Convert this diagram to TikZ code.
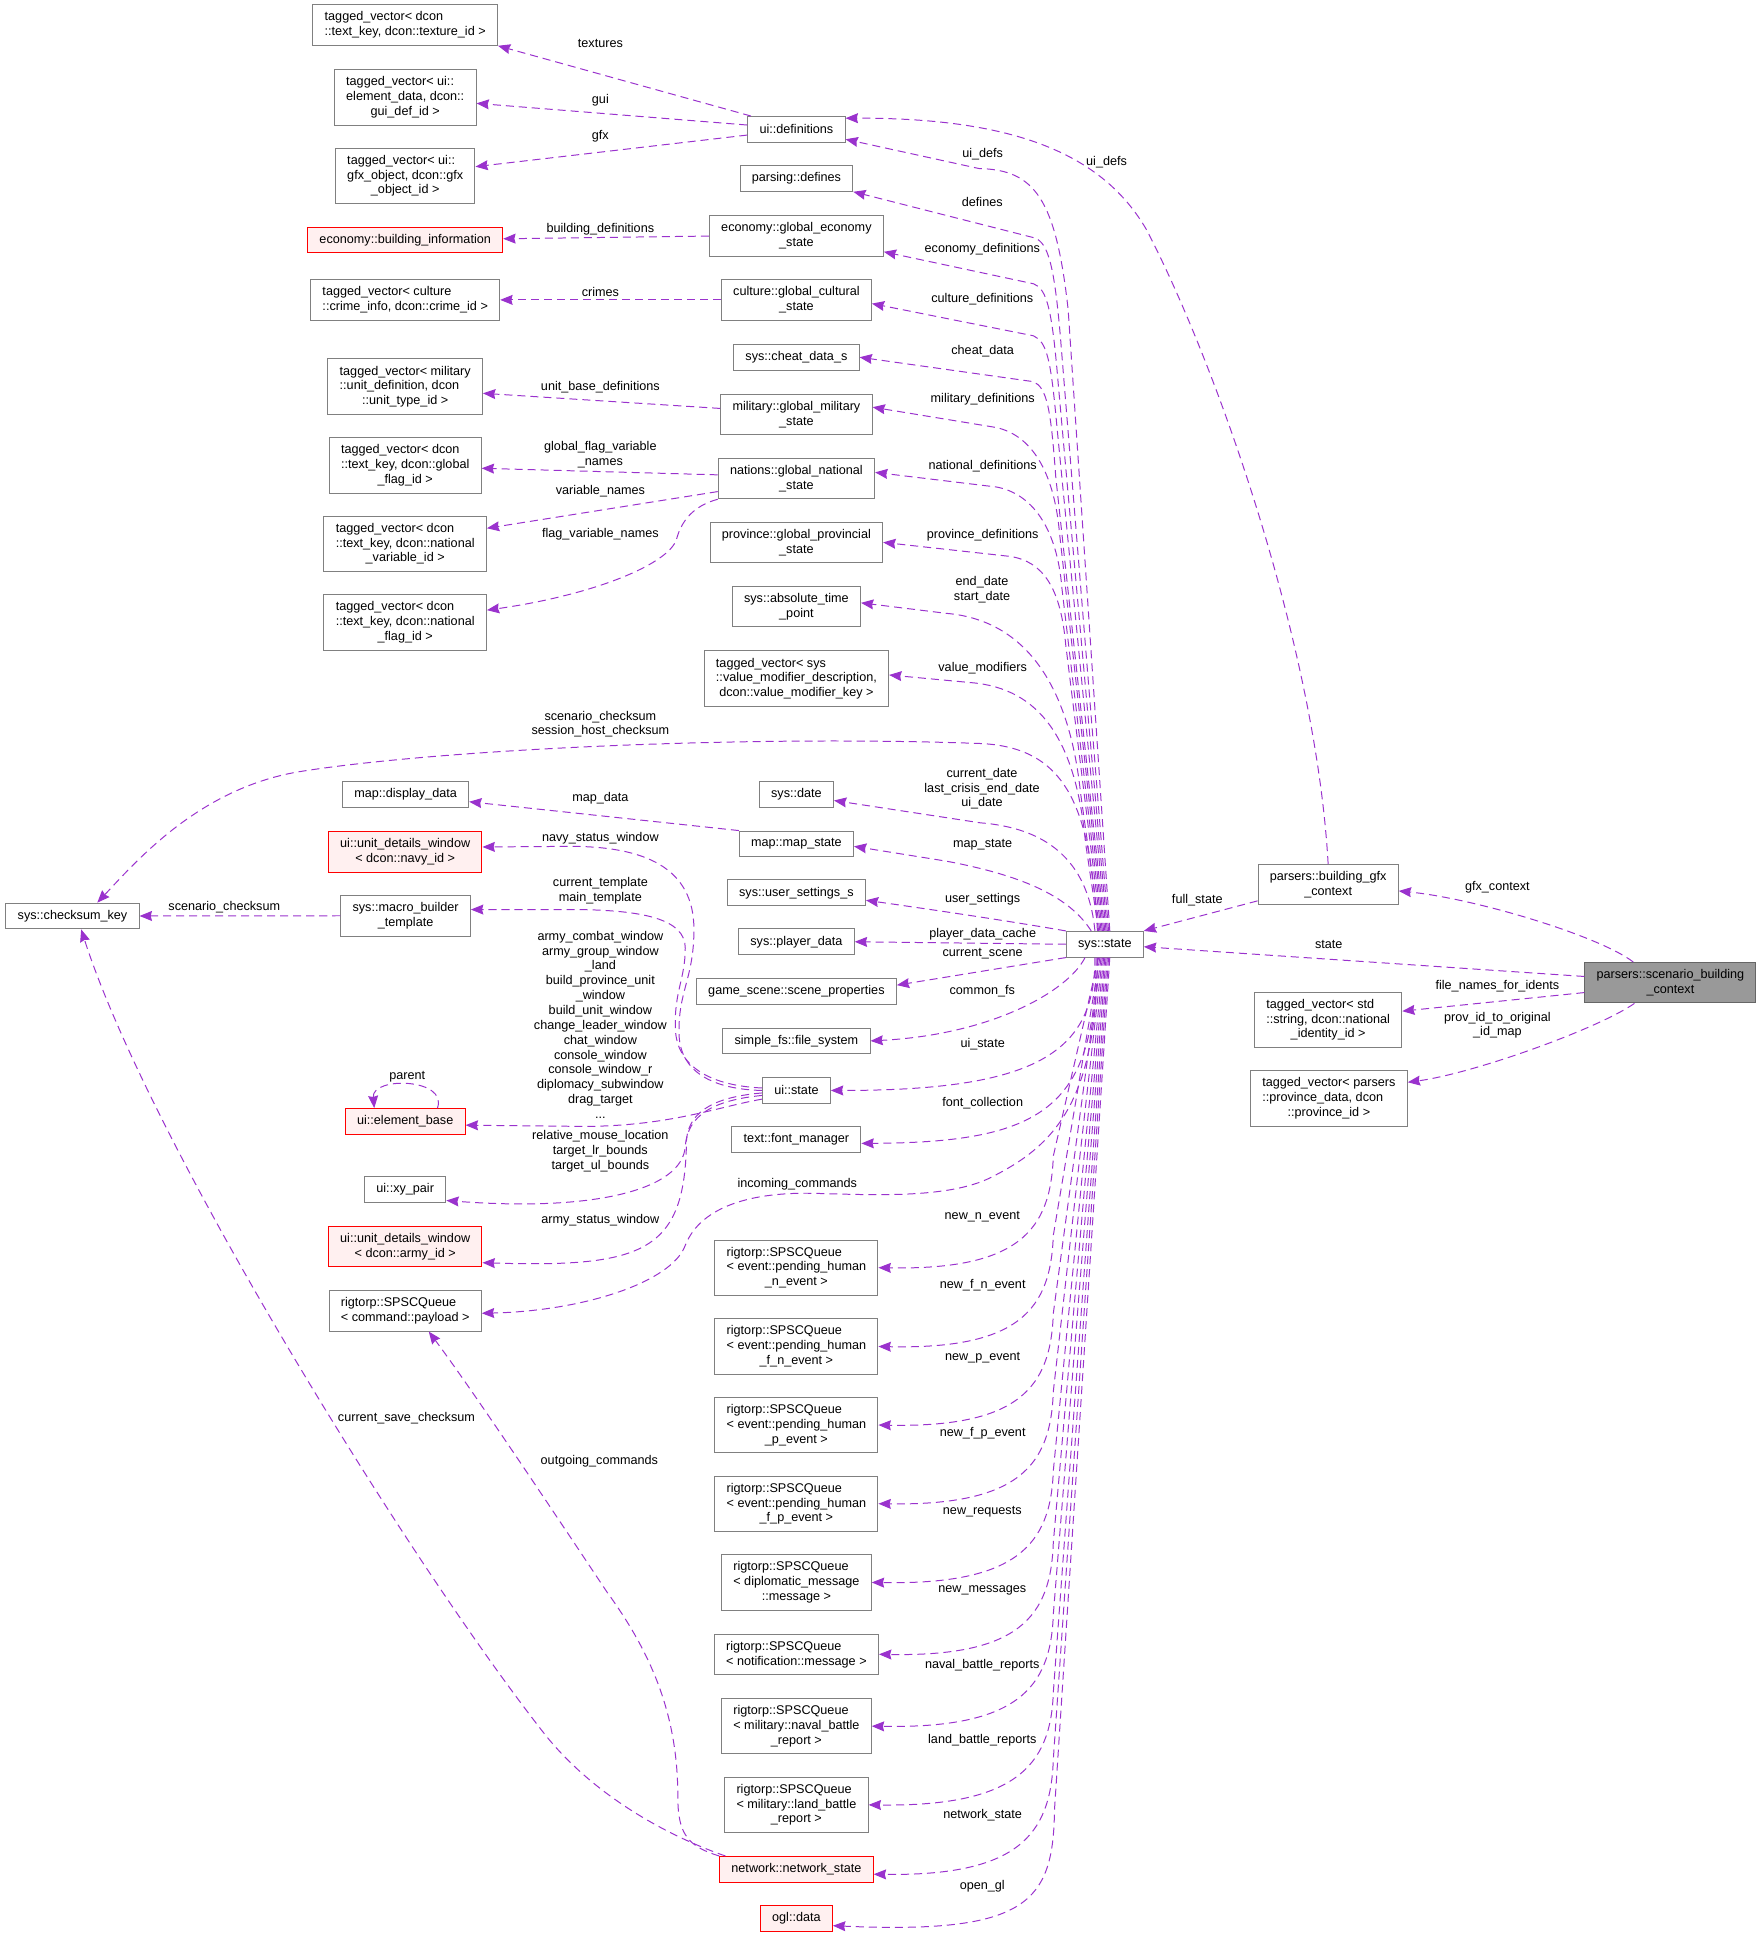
\documentclass[tikz,border=0pt]{standalone}
\usepackage{fontspec}
\setmainfont{Liberation Sans}
\usetikzlibrary{arrows.meta}
\definecolor{dxpurple}{HTML}{9A32CD}
\definecolor{dxgray}{HTML}{808080}
\definecolor{dxredfill}{HTML}{FFF0F0}
\definecolor{dxmainfill}{HTML}{999999}
\definecolor{dxmainline}{HTML}{666666}
\newcommand{\dxfont}{\fontsize{10.2}{12}\selectfont}
\newcommand{\midln}[1]{\hspace*{0pt plus 1fil}#1}

\begin{document}
\begin{tikzpicture}[x=1pt,y=-1pt,
  cls/.style={draw=dxgray,line width=0.8pt,fill=white,font=\dxfont,align=left,
    inner xsep=9.5pt,inner ysep=5.6pt,minimum height=20.7pt},
  clsred/.style={cls,draw=red,fill=dxredfill},
  clsmain/.style={cls,draw=dxmainline,fill=dxmainfill},
  usage/.style={dxpurple,line width=0.8pt,dash pattern=on 6.5pt off 4pt,
    -{Stealth[length=10pt,width=8pt,inset=1pt]}},
  lbl/.style={font=\dxfont,align=center,inner sep=0pt}]
\path[use as bounding box] (0,0) rectangle (1421,1568);

\node[cls] (tvtex) at (327,20.2) {tagged\_vector< dcon\\\midln{::text\_key, dcon::texture\_id >}};
\node[cls] (tvgui) at (327,78.7) {tagged\_vector< ui::\\element\_data, dcon::\\\midln{gui\_def\_id >}};
\node[cls] (tvgfx) at (327,141.9) {tagged\_vector< ui::\\gfx\_object, dcon::gfx\\\midln{\_object\_id >}};
\node[clsred] (econbi) at (327,193.7) {economy::building\_information};
\node[cls] (tvcrime) at (327,242) {tagged\_vector< culture\\\midln{::crime\_info, dcon::crime\_id >}};
\node[cls] (tvunit) at (327,312) {tagged\_vector< military\\::unit\_definition, dcon\\\midln{::unit\_type\_id >}};
\node[cls] (tvgflag) at (327,375.5) {tagged\_vector< dcon\\::text\_key, dcon::global\\\midln{\_flag\_id >}};
\node[cls] (tvnvar) at (327,438.8) {tagged\_vector< dcon\\::text\_key, dcon::national\\\midln{\_variable\_id >}};
\node[cls] (tvnflag) at (327,502.2) {tagged\_vector< dcon\\::text\_key, dcon::national\\\midln{\_flag\_id >}};
\node[cls] (checksum) at (58.5,739.2) {sys::checksum\_key};
\node[cls] (display) at (327.3,641) {map::display\_data};
\node[clsred] (navywin) at (327,687.5) {ui::unit\_details\_window\\\midln{< dcon::navy\_id >}};
\node[cls] (macro) at (327.3,739) {sys::macro\_builder\\\midln{\_template}};
\node[clsred] (elembase) at (327,905) {ui::element\_base};
\node[cls] (xypair) at (327,959.8) {ui::xy\_pair};
\node[clsred] (armywin) at (327,1006) {ui::unit\_details\_window\\\midln{< dcon::army\_id >}};
\node[cls] (cmdq) at (327,1057.8) {rigtorp::SPSCQueue\\\midln{< command::payload >}};

\node[cls] (uidef) at (642.7,104.4) {ui::definitions};
\node[cls] (defines) at (642.7,144) {parsing::defines};
\node[cls] (econst) at (642.7,190.5) {economy::global\_economy\\\midln{\_state}};
\node[cls] (cultst) at (642.7,242) {culture::global\_cultural\\\midln{\_state}};
\node[cls] (cheat) at (642.7,288.3) {sys::cheat\_data\_s};
\node[cls] (milst) at (642.7,334.6) {military::global\_military\\\midln{\_state}};
\node[cls] (natst) at (642.7,386.2) {nations::global\_national\\\midln{\_state}};
\node[cls] (provst) at (642.7,437.7) {province::global\_provincial\\\midln{\_state}};
\node[cls] (abstime) at (642.7,489.5) {sys::absolute\_time\\\midln{\_point}};
\node[cls] (tvvalmod) at (642.7,547.7) {tagged\_vector< sys\\::value\_modifier\_description,\\\midln{dcon::value\_modifier\_key >}};
\node[cls] (sysdate) at (642.7,641) {sys::date};
\node[cls] (mapst) at (642.7,681) {map::map\_state};
\node[cls] (userset) at (642.7,720.5) {sys::user\_settings\_s};
\node[cls] (player) at (642.7,760) {sys::player\_data};
\node[cls] (scene) at (642.7,800) {game\_scene::scene\_properties};
\node[cls] (fs) at (642.7,840) {simple\_fs::file\_system};
\node[cls] (uist) at (642.7,880) {ui::state};
\node[cls] (font) at (642.7,919.7) {text::font\_manager};
\node[cls] (qn) at (642.7,1023) {rigtorp::SPSCQueue\\< event::pending\_human\\\midln{\_n\_event >}};
\node[cls] (qfn) at (642.7,1086.6) {rigtorp::SPSCQueue\\< event::pending\_human\\\midln{\_f\_n\_event >}};
\node[cls] (qp) at (642.7,1150) {rigtorp::SPSCQueue\\< event::pending\_human\\\midln{\_p\_event >}};
\node[cls] (qfp) at (642.7,1213.5) {rigtorp::SPSCQueue\\< event::pending\_human\\\midln{\_f\_p\_event >}};
\node[cls] (qdip) at (642.7,1277) {rigtorp::SPSCQueue\\< diplomatic\_message\\\midln{::message >}};
\node[cls] (qnotif) at (642.7,1335) {rigtorp::SPSCQueue\\\midln{< notification::message >}};
\node[cls] (qnaval) at (642.7,1393) {rigtorp::SPSCQueue\\< military::naval\_battle\\\midln{\_report >}};
\node[cls] (qland) at (642.7,1456.5) {rigtorp::SPSCQueue\\< military::land\_battle\\\midln{\_report >}};
\node[clsred] (network) at (642.7,1508.5) {network::network\_state};
\node[clsred] (ogl) at (642.7,1548) {ogl::data};

\node[cls] (sysst) at (891.6,762) {sys::state};
\node[cls] (gfxctx) at (1071.8,714) {parsers::building\_gfx\\\midln{\_context}};
\node[clsmain] (scenctx) at (1348,793) {parsers::scenario\_building\\\midln{\_context}};
\node[cls] (tvnatid) at (1071.8,823) {tagged\_vector< std\\::string, dcon::national\\\midln{\_identity\_id >}};
\node[cls] (tvprov) at (1072.4,886.4) {tagged\_vector< parsers\\::province\_data, dcon\\\midln{::province\_id >}};

\draw[usage] ([xshift=3pt]uidef.north west) -- (tvtex.south east);
\draw[usage] ([yshift=3.5pt]uidef.west) -- ([yshift=-4.7pt]tvgui.east);
\draw[usage] ([yshift=-4.6pt]uidef.west) -- ([yshift=7.4pt]tvgfx.east);
\draw[usage] (econst.west) -- ([yshift=1pt]econbi.east);
\draw[usage] (cultst.west) -- (tvcrime.east);
\draw[usage] ([yshift=5pt]milst.west) -- ([yshift=-5.4pt]tvunit.east);
\draw[usage] ([yshift=3pt]natst.west) -- ([yshift=-2.4pt]tvgflag.east);
\draw[usage] ([yshift=-10.5pt]natst.west) -- ([yshift=12.5pt]tvnvar.east);
\draw[usage] (natst.south west) .. controls (560,408) and (550,420) .. (546,435) .. controls (540,455) and (480,480) .. ([yshift=9.8pt]tvnflag.east);
\draw[usage] (mapst.north west) -- ([yshift=-6pt]display.east);
\draw[usage] (macro.west) -- (checksum.east);

\draw[usage] (uist.west) .. controls (575,879) and (549,865) .. (548,835) .. controls (547,800) and (560,790) .. (560,750) .. controls (560,700) and (520,683) .. (460,683) -- ([yshift=4pt]navywin.east);
\draw[usage] ([yshift=2pt]uist.west) .. controls (572,876) and (546,860) .. (545,830) .. controls (544,800) and (553,790) .. (553,765) .. controls (553,742) and (520,734) .. (460,734) -- ([yshift=5pt]macro.east);
\draw[usage] ([yshift=-7pt]uist.west) .. controls (580,893) and (540,909) .. (470,909) -- ([yshift=-3pt]elembase.east);
\draw[usage] ([yshift=-4pt]uist.west) .. controls (575,888) and (555,900) .. (553,925) .. controls (551,960) and (480,978) .. ([yshift=-9pt]xypair.east);
\draw[usage] ([yshift=-2pt]uist.west) .. controls (580,885) and (556,895) .. (554,920) .. controls (553,1010) and (520,1023) .. ([yshift=-13pt]armywin.east);
\draw[usage] ([xshift=26pt]elembase.north) to[out=70,in=95,looseness=1.3] ([xshift=-25pt]elembase.north);

\draw[usage] (network.north west) .. controls (555,1490) and (547,1480) .. (547,1450) .. controls (547,1390) and (530,1340) .. (490,1285) .. controls (440,1210) and (380,1120) .. ([xshift=19pt]cmdq.south);
\draw[usage] ([xshift=5pt]network.north west) .. controls (540,1482) and (480,1450) .. (440,1400) .. controls (330,1260) and (120,920) .. ([xshift=7pt]checksum.south);

\draw[usage] ([xshift=4pt]sysst.north) -- (862,250) .. controls (852,160) and (835,137) .. (790,136) -- ([yshift=-8pt]uidef.east);
\draw[usage] ([xshift=3pt]sysst.north) -- (856,275) .. controls (851,215) and (846,196) .. (835,192) -- (defines.south east);
\draw[usage] ([xshift=2pt]sysst.north) -- (854,310) .. controls (849,250) and (845,233) .. (834,229) -- ([yshift=4pt]econst.south east);
\draw[usage] ([xshift=1pt]sysst.north) -- (853,345) .. controls (848,290) and (845,276) .. (834,271) -- ([yshift=-3pt]cultst.east);
\draw[usage] (sysst.north) -- (852,385) .. controls (848,330) and (845,313) .. (834,308) -- (cheat.east);
\draw[usage] ([xshift=-1pt]sysst.north) -- (855,430) .. controls (851,385) and (835,352) .. (804,345) -- ([yshift=6pt]milst.east);
\draw[usage] ([xshift=-2pt]sysst.north) -- (857,475) .. controls (853,425) and (832,398) .. (804,393) -- ([yshift=5pt]natst.east);
\draw[usage] ([xshift=-3pt]sysst.north) -- (860,520) .. controls (856,475) and (842,453) .. (815,449) -- (provst.east);
\draw[usage] ([xshift=-4pt]sysst.north) -- (872,640) .. controls (862,545) and (822,500) .. (764,495) -- ([yshift=3pt]abstime.east);
\draw[usage] ([xshift=-5pt]sysst.north) -- (876,680) .. controls (868,595) and (838,556) .. (785,551) -- ([yshift=3pt]tvvalmod.east);
\draw[usage] ([xshift=-6pt]sysst.north) .. controls (880,650) and (860,603) .. (791,600) .. controls (600,593) and (350,605) .. (240,623) .. controls (160,637) and (110,695) .. ([xshift=20pt]checksum.north);
\draw[usage] ([xshift=-8pt]sysst.north) .. controls (878,692) and (842,668) .. (791,664) -- ([yshift=-5pt]sysdate.east);
\draw[usage] ([xshift=-11pt]sysst.north) .. controls (862,722) and (822,706) .. (764,695) -- ([yshift=-2pt]mapst.east);
\draw[usage] (sysst.north west) .. controls (830,746) and (780,738) .. ([yshift=-6pt]userset.east);
\draw[usage] (sysst.west) -- (player.east);

\draw[usage] (sysst.south west) -- ([yshift=5pt]scene.east);
\draw[usage] ([xshift=-16pt]sysst.south) .. controls (862,800) and (800,835) .. (fs.east);
\draw[usage] ([xshift=-8pt]sysst.south) .. controls (884,850) and (835,880) .. (uist.east);
\draw[usage] ([xshift=-7pt]sysst.south) .. controls (884,895) and (840,922) .. ([yshift=-3pt]font.east);
\draw[usage] ([xshift=-6pt]sysst.south) .. controls (885,890) and (850,925) .. (800,950) .. controls (765,968) and (700,964) .. (656,963) .. controls (610,962) and (566,972) .. (553,1005) .. controls (542,1035) and (470,1058) .. ([yshift=-2pt]cmdq.east);
\draw[usage] ([xshift=-5pt]sysst.south) -- (850,933) .. controls (848,993) and (822,1025) .. (qn.east);
\draw[usage] ([xshift=-4pt]sysst.south) -- (850,997) .. controls (848,1057) and (822,1089) .. (qfn.east);
\draw[usage] ([xshift=-3pt]sysst.south) -- (850,1060) .. controls (848,1120) and (822,1152) .. (qp.east);
\draw[usage] ([xshift=-2pt]sysst.south) -- (850,1123) .. controls (848,1183) and (822,1215) .. (qfp.east);
\draw[usage] ([xshift=-1pt]sysst.south) -- (850,1187) .. controls (848,1247) and (820,1279) .. (qdip.east);
\draw[usage] (sysst.south) -- (850,1245) .. controls (848,1305) and (822,1337) .. (qnotif.east);
\draw[usage] ([xshift=1pt]sysst.south) -- (850,1303) .. controls (848,1363) and (820,1395) .. (qnaval.east);
\draw[usage] ([xshift=2pt]sysst.south) -- (850,1366) .. controls (848,1426) and (818,1458) .. (qland.east);
\draw[usage] ([xshift=3pt]sysst.south) -- (850,1420) .. controls (848,1482) and (820,1514) .. ([yshift=-4pt]network.east);
\draw[usage] ([xshift=4pt]sysst.south) -- (851,1460) .. controls (850,1535) and (830,1561) .. ([yshift=-6pt]ogl.east);

\draw[usage] ([yshift=-13pt]gfxctx.west) -- (sysst.north east);
\draw[usage] (gfxctx.north) .. controls (1062,520) and (980,290) .. (925,185) .. controls (890,125) and (820,95) .. ([yshift=9pt]uidef.east);
\draw[usage] ([xshift=-30pt]scenctx.north) .. controls (1290,755) and (1190,725) .. ([yshift=-5pt]gfxctx.east);
\draw[usage] ([yshift=5pt]scenctx.west) -- ([yshift=-2pt]sysst.east);
\draw[usage] ([yshift=-8pt]scenctx.west) -- ([yshift=7pt]tvnatid.east);
\draw[usage] ([xshift=-29pt]scenctx.south) .. controls (1290,830) and (1190,866) .. ([yshift=13pt]tvprov.east);

\node[lbl] (ltextures) at (484.5,35) {textures};
\node[lbl] (lgui) at (484.5,80.7) {gui};
\node[lbl] (lgfx) at (484.5,110.3) {gfx};
\node[lbl] (lbuilddefs) at (484.5,184.8) {building\_definitions};
\node[lbl] (lcrimes) at (484.5,235.4) {crimes};
\node[lbl] (lunitbase) at (484.5,312.8) {unit\_base\_definitions};
\node[lbl] (lglobalflag) at (484.5,367) {global\_flag\_variable\\\_names};
\node[lbl] (lvarnames) at (484.5,396.7) {variable\_names};
\node[lbl] (lflagvar) at (484.5,431) {flag\_variable\_names};
\node[lbl] (lscenhost) at (484.5,584.4) {scenario\_checksum\\session\_host\_checksum};
\node[lbl] (lmapdata) at (484.5,644.2) {map\_data};
\node[lbl] (lnavy) at (484.5,676.5) {navy\_status\_window};
\node[lbl] (ltemplate) at (484.5,719) {current\_template\\main\_template};
\node[lbl] (lscenario) at (181,732.2) {scenario\_checksum};
\node[lbl] (lwindows) at (484.5,827) {army\_combat\_window\\army\_group\_window\\\_land\\build\_province\_unit\\\_window\\build\_unit\_window\\change\_leader\_window\\chat\_window\\console\_window\\console\_window\_r\\diplomacy\_subwindow\\drag\_target\\...};
\node[lbl] (lparent) at (328.6,868.8) {parent};
\node[lbl] (lmouse) at (484.5,929.3) {relative\_mouse\_location\\target\_lr\_bounds\\target\_ul\_bounds};
\node[lbl] (larmy) at (484.5,985) {army\_status\_window};
\node[lbl] (lincoming) at (643.4,956) {incoming\_commands};
\node[lbl] (lsavesum) at (328,1144.6) {current\_save\_checksum};
\node[lbl] (loutgoing) at (483.7,1179) {outgoing\_commands};

\node[lbl] (luidefs) at (793,124.5) {ui\_defs};
\node[lbl] (ldefines) at (792.7,163) {defines};
\node[lbl] (leconomy) at (792.7,201) {economy\_definitions};
\node[lbl] (lculture) at (792.7,241.6) {culture\_definitions};
\node[lbl] (lcheat) at (793,283.8) {cheat\_data};
\node[lbl] (lmilitary) at (793,322) {military\_definitions};
\node[lbl] (lnational) at (793,376) {national\_definitions};
\node[lbl] (lprovince) at (793,432) {province\_definitions};
\node[lbl] (ldates) at (792.5,476) {end\_date\\start\_date};
\node[lbl] (lvalmod) at (793,539) {value\_modifiers};
\node[lbl] (lcurdate) at (792.5,636.5) {current\_date\\last\_crisis\_end\_date\\ui\_date};
\node[lbl] (lmapstate) at (793,682) {map\_state};
\node[lbl] (lusersettings) at (793,725.7) {user\_settings};
\node[lbl] (lplayer) at (793,753.7) {player\_data\_cache};
\node[lbl] (lscene) at (793,770) {current\_scene};
\node[lbl] (lcommonfs) at (792.7,800) {common\_fs};
\node[lbl] (luistate) at (793,843) {ui\_state};
\node[lbl] (lfont) at (793,890) {font\_collection};
\node[lbl] (lnewn) at (792.7,981.7) {new\_n\_event};
\node[lbl] (lnewfn) at (793,1037) {new\_f\_n\_event};
\node[lbl] (lnewp) at (793,1096) {new\_p\_event};
\node[lbl] (lnewfp) at (793,1157) {new\_f\_p\_event};
\node[lbl] (lrequests) at (792.7,1219.8) {new\_requests};
\node[lbl] (lmessages) at (792.7,1283.6) {new\_messages};
\node[lbl] (lnaval) at (792.7,1343.6) {naval\_battle\_reports};
\node[lbl] (lland) at (792.7,1404) {land\_battle\_reports};
\node[lbl] (lnetwork) at (793,1465) {network\_state};
\node[lbl] (lopengl) at (792.7,1522.5) {open\_gl};

\node[lbl] (luidefs2) at (893,131) {ui\_defs};
\node[lbl] (lfullstate) at (966.2,726.8) {full\_state};
\node[lbl] (lgfxctx) at (1208.4,716.2) {gfx\_context};
\node[lbl] (lstate) at (1072.3,762.5) {state};
\node[lbl] (lfilenames) at (1208.4,796.1) {file\_names\_for\_idents};
\node[lbl] (lprovmap) at (1208.4,827.4) {prov\_id\_to\_original\\\_id\_map};
\end{tikzpicture}
\end{document}
